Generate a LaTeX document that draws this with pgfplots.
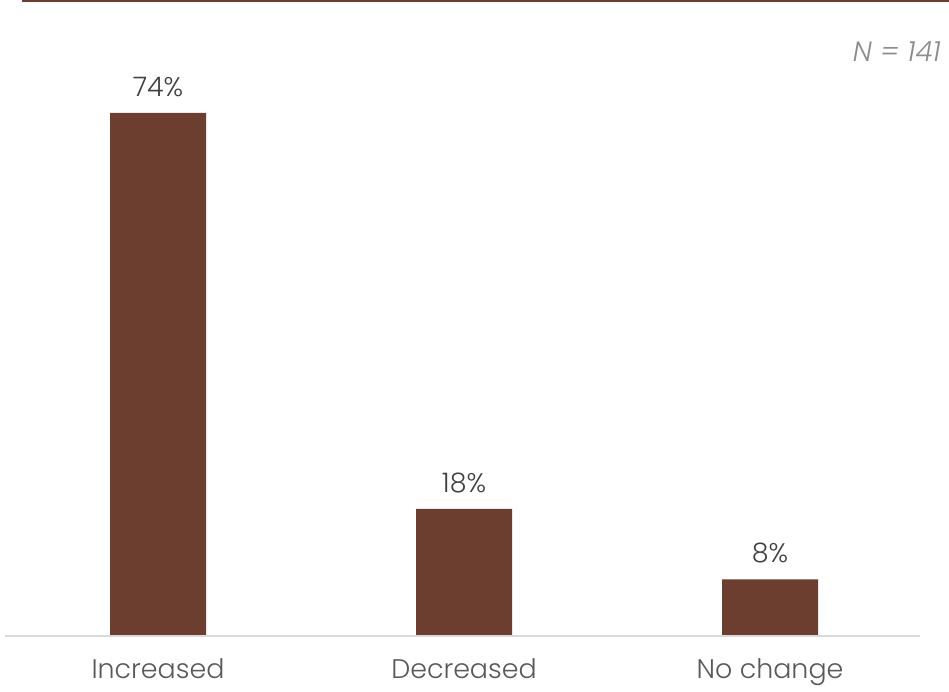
\documentclass[border=0pt]{standalone}
\usepackage{pgfplots}
\pgfplotsset{compat=1.18}
\usepackage{fontspec}
\setmainfont{Poppins}[UprightFont=* Light, ItalicFont=* Light Italic]
\definecolor{barbrown}{RGB}{107,62,48}
\definecolor{axisgray}{RGB}{217,217,217}
\definecolor{labgray}{RGB}{89,89,89}
\definecolor{valgray}{RGB}{64,64,64}
\definecolor{ngray}{RGB}{140,140,140}
\begin{document}
\begin{tikzpicture}
\path[use as bounding box] (0,0) rectangle (949bp,692bp);
\begin{axis}[
  at={(5bp,56bp)}, anchor=south west,
  scale only axis,
  width=915bp, height=634bp,
  xmin=-0.5, xmax=2.49,
  ymin=0, ymax=89.7,
  axis line style={draw=none},
  ybar, bar width=96bp,
  bar shift=0pt,
  xtick=data,
  xticklabels={Increased,Decreased,No change},
  ytick=\empty,
  major tick length=0pt,
  /pgf/number format/assume math mode=true,
  xticklabel style={font=\fontsize{27}{32}\selectfont, text=labgray, inner sep=0pt, anchor=north, yshift=-22bp},
  nodes near coords={\pgfmathprintnumber{\pgfplotspointmeta}\%},
  nodes near coords style={font=\fontsize{27}{32}\selectfont, text=valgray, inner sep=0pt, anchor=south, yshift=16bp},
  clip=false,
]
\addplot[fill=barbrown, draw=none] coordinates {(0,74) (1,18) (2,8)};
\draw[axisgray, line width=1.5bp] (rel axis cs:0,0) -- (rel axis cs:1,0);
\end{axis}
\draw[barbrown, line width=2bp] (22bp,691bp) -- (949bp,691bp);
\node[anchor=base east, inner sep=0pt, text=ngray, font=\fontsize{28}{33}\selectfont\itshape] at (941bp,630bp) {N = 141};
\end{tikzpicture}
\end{document}
